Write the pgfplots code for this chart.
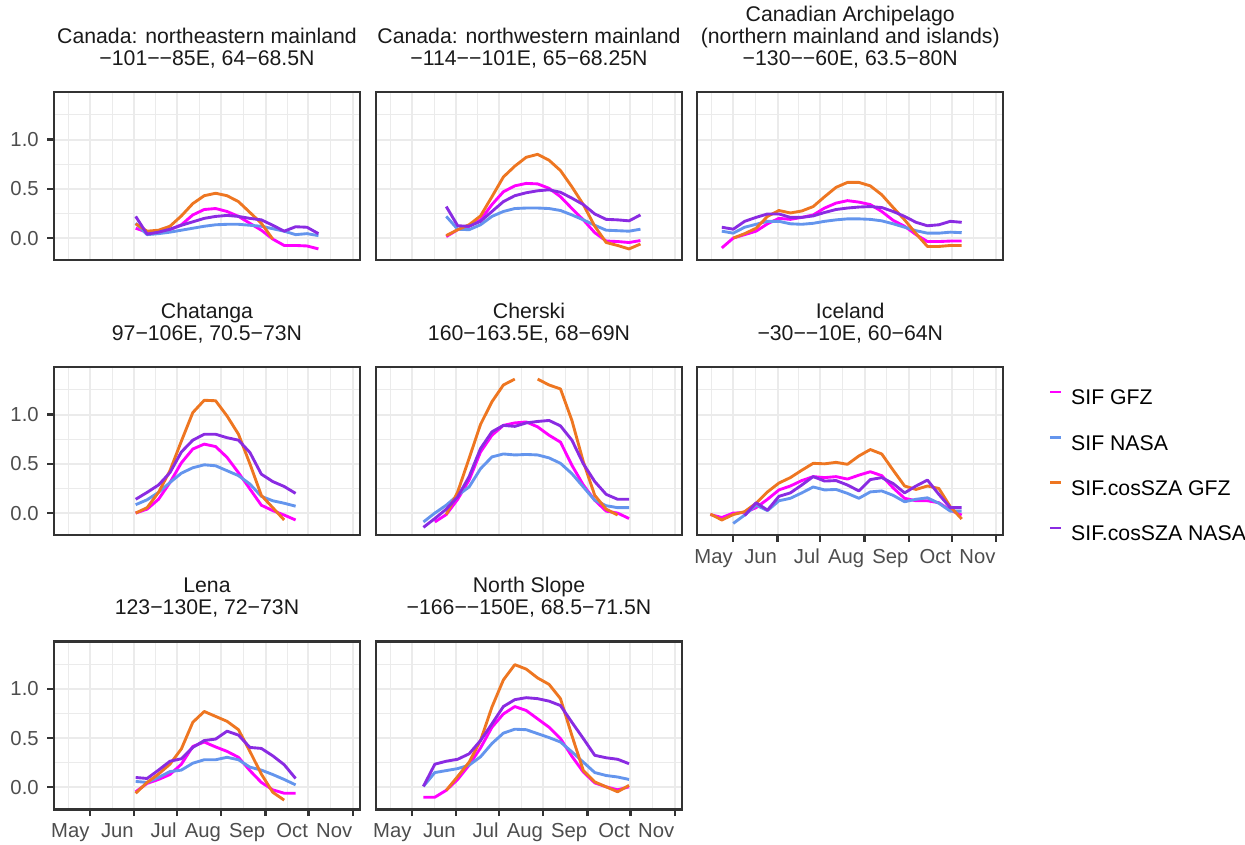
\documentclass[border=0pt]{standalone}
\usepackage{fontspec}
\setmainfont{Liberation Sans}
\usepackage{pgfplots}
\usepackage{pgfplotstable}
\pgfplotsset{compat=1.18}

\definecolor{sifgfz}{HTML}{FF00FF}
\definecolor{sifnasa}{HTML}{6495ED}
\definecolor{cosgfz}{HTML}{EE7621}
\definecolor{cosnasa}{HTML}{8A2BE2}
\definecolor{grid92}{HTML}{EBEBEB}
\definecolor{grey20}{HTML}{333333}
\definecolor{grey30}{HTML}{4D4D4D}
\definecolor{grey10}{HTML}{1A1A1A}

\newcommand{\txt}{\fontsize{8.1pt}{9pt}\selectfont}
\newcommand{\ttl}{\fontsize{8.5pt}{8.7pt}\selectfont}

% day of year, SIF GFZ, SIF NASA, SIF.cosSZA GFZ, SIF.cosSZA NASA
\pgfplotstableread{
doy gfz nasa cgfz cnasa
153 0.10 0.15 0.145 0.22
161 0.06 0.035 0.07 0.04
169 0.06 0.045 0.08 0.06
177 0.085 0.06 0.12 0.09
185 0.135 0.08 0.225 0.13
193 0.235 0.10 0.35 0.165
201 0.29 0.12 0.43 0.20
209 0.30 0.135 0.455 0.22
217 0.27 0.14 0.43 0.23
225 0.22 0.14 0.37 0.22
233 0.15 0.13 0.26 0.20
241 0.08 0.12 0.15 0.185
249 -0.01 0.095 -0.01 0.13
257 -0.075 0.07 nan 0.07
265 -0.075 0.035 nan 0.115
273 -0.08 0.045 nan 0.11
281 -0.11 0.025 nan 0.045
}\canNE

\pgfplotstableread{
doy gfz nasa cgfz cnasa
145 0.015 0.22 0.025 0.32
153 0.085 0.09 0.085 0.125
161 0.12 0.085 0.135 0.12
169 0.185 0.135 0.225 0.17
177 0.34 0.22 0.42 0.27
185 0.47 0.27 0.62 0.37
193 0.53 0.30 0.73 0.43
201 0.555 0.305 0.82 0.46
209 0.55 0.305 0.85 0.48
217 0.505 0.30 0.79 0.49
225 0.42 0.28 0.685 0.465
233 0.30 0.235 0.52 0.405
241 0.185 0.185 0.34 0.34
249 0.055 0.13 0.12 0.245
257 -0.03 0.08 -0.045 0.19
265 -0.035 0.075 -0.075 0.185
273 -0.045 0.07 -0.11 0.175
281 -0.025 0.09 -0.06 0.235
}\canNW

\pgfplotstableread{
doy gfz nasa cgfz cnasa
113 -0.10 0.07 nan 0.11
121 0.0 0.05 0.0 0.09
129 0.035 0.11 0.045 0.17
137 0.07 0.14 0.10 0.21
145 0.145 0.17 0.22 0.245
153 0.20 0.17 0.28 0.245
161 0.19 0.145 0.255 0.21
169 0.21 0.14 0.275 0.21
177 0.235 0.15 0.32 0.225
185 0.305 0.17 0.42 0.26
193 0.355 0.185 0.515 0.29
201 0.38 0.195 0.565 0.305
209 0.365 0.195 0.565 0.315
217 0.34 0.19 0.53 0.32
225 0.27 0.175 0.44 0.31
233 0.18 0.145 0.31 0.27
241 0.12 0.11 0.185 0.22
249 0.035 0.075 0.045 0.16
257 -0.035 0.05 -0.085 0.125
265 -0.035 0.05 -0.085 0.135
273 -0.03 0.06 -0.075 0.17
281 -0.03 0.055 -0.075 0.16
}\canArch

\pgfplotstableread{
doy gfz nasa cgfz cnasa
153 0.0 0.085 0.0 0.14
161 0.04 0.135 0.055 0.21
169 0.14 0.21 0.21 0.285
177 0.31 0.31 0.43 0.41
185 0.51 0.405 0.73 0.62
193 0.65 0.46 1.02 0.74
201 0.70 0.49 1.145 0.80
209 0.675 0.48 1.14 0.80
217 0.565 0.43 0.985 0.765
225 0.41 0.38 0.80 0.74
233 0.245 0.295 0.50 0.615
241 0.08 0.17 0.18 0.395
249 0.025 0.125 0.055 0.32
257 -0.02 0.10 -0.07 0.27
265 -0.07 0.07 nan 0.20
}\chatanga

\pgfplotstableread{
doy gfz nasa cgfz cnasa
129 nan -0.09 nan -0.145
137 -0.09 0.0 nan -0.055
145 -0.015 0.08 -0.015 0.04
153 0.14 0.18 0.215 0.165
161 0.335 0.265 0.555 0.37
169 0.62 0.45 0.90 0.655
177 0.79 0.57 1.13 0.825
185 0.89 0.60 1.30 0.89
193 0.915 0.59 1.36 0.88
201 0.925 0.595 nan 0.915
209 0.875 0.59 1.36 0.93
217 0.79 0.56 1.30 0.94
225 0.72 0.505 1.26 0.885
233 0.485 0.40 0.94 0.74
241 0.285 0.265 0.52 0.50
249 0.13 0.13 0.18 0.32
257 0.02 0.075 0.04 0.19
265 0.0 0.055 -0.02 0.14
273 -0.055 0.055 nan 0.14
}\cherski

\pgfplotstableread{
doy gfz nasa cgfz cnasa
105 -0.015 nan -0.01 nan
113 -0.045 nan -0.07 nan
121 0.0 -0.105 -0.015 nan
129 0.005 -0.02 0.015 -0.025
137 0.055 0.08 0.10 0.105
145 0.14 0.025 0.215 0.03
153 0.235 0.125 0.305 0.17
161 0.275 0.15 0.36 0.205
169 0.33 0.205 0.435 0.285
177 0.37 0.265 0.505 0.37
185 0.36 0.235 0.50 0.325
193 0.37 0.24 0.515 0.33
201 0.345 0.20 0.495 0.285
209 0.385 0.15 0.58 0.225
217 0.42 0.215 0.645 0.34
225 0.38 0.225 0.60 0.36
233 0.255 0.18 0.435 0.30
241 0.15 0.115 0.275 0.205
249 0.125 0.14 0.24 0.275
257 0.125 0.155 0.275 0.335
265 0.105 0.10 0.25 0.19
273 0.03 0.02 0.065 0.055
281 -0.02 0.02 -0.06 0.055
}\iceland

\pgfplotstableread{
doy gfz nasa cgfz cnasa
153 -0.045 0.06 -0.06 0.10
161 0.04 0.05 0.05 0.09
169 0.08 0.10 0.135 0.175
177 0.13 0.16 0.235 0.265
185 0.235 0.175 0.39 0.29
193 0.415 0.245 0.66 0.405
201 0.46 0.28 0.77 0.475
209 0.41 0.28 0.72 0.49
217 0.365 0.305 0.67 0.57
225 0.305 0.28 0.585 0.53
233 0.17 0.205 0.365 0.405
241 0.05 0.175 0.135 0.395
249 -0.025 0.13 -0.05 0.32
257 -0.06 0.08 -0.13 0.23
265 -0.06 0.025 nan 0.09
}\lena

\pgfplotstableread{
doy gfz nasa cgfz cnasa
129 -0.10 0.01 nan 0.01
137 -0.10 0.15 nan 0.235
145 -0.03 0.17 -0.03 0.265
153 0.08 0.19 0.11 0.285
161 0.225 0.225 0.255 0.34
169 0.40 0.31 0.475 0.475
177 0.61 0.445 0.815 0.645
185 0.745 0.55 1.09 0.82
193 0.82 0.59 1.245 0.89
201 0.78 0.585 1.20 0.91
209 0.695 0.545 1.11 0.90
217 0.61 0.505 1.045 0.875
225 0.495 0.46 0.90 0.83
233 0.315 0.36 0.525 0.66
241 0.155 0.255 0.17 0.495
249 0.045 0.15 0.055 0.325
257 0.005 0.12 0.005 0.30
265 -0.025 0.105 -0.045 0.285
273 0.005 0.08 0.02 0.24
}\northslope

\pgfplotsset{
  panel/.style={
    width=122.4pt, height=67.2pt, scale only axis,
    anchor=north west,
    xmin=95.8, xmax=310.1, ymin=-0.225, ymax=1.48,
    axis line style={draw=grey20, line width=0.9pt},
    xtick={121,152,182,213,244,274,305},
    minor xtick={106,136.5,167,197.5,228.5,259,289.5},
    ytick={0,0.5,1},
    minor ytick={0.25,0.75,1.25},
    xtick pos=bottom, ytick pos=left,
    grid=both,
    major grid style={draw=grid92, line width=0.8pt},
    minor grid style={draw=grid92, line width=0.4pt},
    xticklabels={}, yticklabels={},
    tick align=outside,
    major tick length=2.64pt, minor tick length=0pt,
    tick style={draw=grey20, line width=0.9pt},
    xtick style={draw=none}, ytick style={draw=none},
    unbounded coords=jump,
    title style={at={(0.5,1)}, anchor=south, yshift=3.5pt, align=center,
      font=\ttl, text=grey10, inner sep=0pt},
    every axis plot/.append style={line width=1.15pt, line join=round},
  },
  yaxis/.style={
    ytick style={draw=grey20, line width=0.9pt},
    yticklabels={0.0,0.5,1.0},
    yticklabel style={font=\txt, text=grey30, inner sep=0pt},
    yticklabel shift=3.3pt,
  },
  xaxis/.style={
    xtick style={draw=grey20, line width=0.9pt},
    xticklabels={May,Jun,Jul,Aug,Sep,Oct,Nov},
    xticklabel style={font=\txt, text=grey30, inner sep=0pt,
      text height=5.9pt, text depth=0pt, anchor=north east},
    xticklabel shift=2.4pt,
  },
}

\newcommand{\fourlines}[1]{%
  \addplot[sifgfz] table[x=doy, y=gfz] {#1};
  \addplot[sifnasa] table[x=doy, y=nasa] {#1};
  \addplot[cosgfz] table[x=doy, y=cgfz] {#1};
  \addplot[cosnasa] table[x=doy, y=cnasa] {#1};
}

\begin{document}
\begin{tikzpicture}
\useasboundingbox (0,0) rectangle (498pt,-337.6pt);

% row 1
\begin{axis}[panel, yaxis, at={(21.6pt,-36.9pt)},
  title={Canada: northeastern mainland\\−101−−85E, 64−68.5N}]
\fourlines{\canNE}
\end{axis}
\begin{axis}[panel, at={(150.4pt,-36.9pt)},
  title={Canada: northwestern mainland\\−114−−101E, 65−68.25N}]
\fourlines{\canNW}
\end{axis}
\begin{axis}[panel, at={(278.9pt,-36.9pt)},
  title={Canadian Archipelago\\(northern mainland and islands)\\−130−−60E, 63.5−80N}]
\fourlines{\canArch}
\end{axis}

% row 2
\begin{axis}[panel, yaxis, at={(21.6pt,-146.9pt)},
  title={Chatanga\\97−106E, 70.5−73N}]
\fourlines{\chatanga}
\end{axis}
\begin{axis}[panel, at={(150.4pt,-146.9pt)},
  title={Cherski\\160−163.5E, 68−69N}]
\fourlines{\cherski}
\end{axis}
\begin{axis}[panel, xaxis, at={(278.9pt,-146.9pt)},
  title={Iceland\\−30−−10E, 60−64N},
  legend style={at={(1.148,0.405)}, anchor=west, draw=none, fill=none,
    inner sep=0pt, font=\ttl, text=black,
    nodes={inner sep=0pt}, /tikz/row sep=10.7pt,
    /tikz/every odd column/.append style={column sep=3.3pt}},
  legend cell align=left,
  legend image code/.code={\draw[#1] (0pt,2.9pt) -- (4.4pt,2.9pt);}]
\fourlines{\iceland}
\legend{SIF GFZ, SIF NASA, SIF.cosSZA GFZ, SIF.cosSZA NASA}
\end{axis}

% row 3
\begin{axis}[panel, yaxis, xaxis, at={(21.6pt,-256.6pt)},
  title={Lena\\123−130E, 72−73N}]
\fourlines{\lena}
\end{axis}
\begin{axis}[panel, xaxis, at={(150.4pt,-256.6pt)},
  title={North Slope\\−166−−150E, 68.5−71.5N}]
\fourlines{\northslope}
\end{axis}
\end{tikzpicture}
\end{document}
